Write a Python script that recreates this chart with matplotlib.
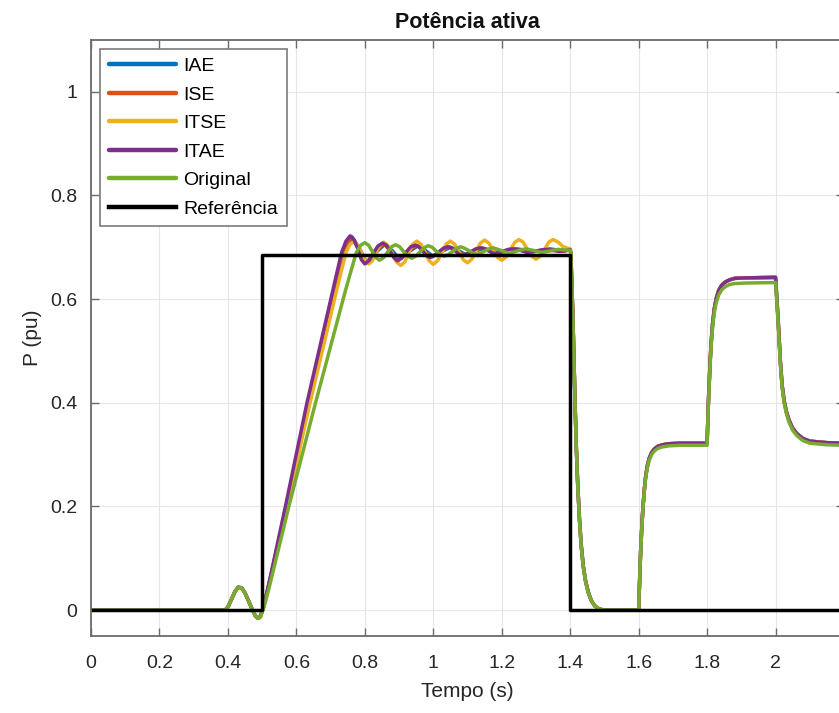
import numpy as np
import matplotlib
matplotlib.use("Agg")
import matplotlib.pyplot as plt

plt.rcParams['font.family'] = ['Liberation Sans', 'DejaVu Sans']

# ---------------- data ----------------
labels = ["IAE", "ISE", "ITSE", "ITAE", "Original", "Referência"]
colors = ["#0072BD", "#D95319", "#EDB120", "#7E2F8E", "#77AC30", "#000000"]

# common pre-step disturbance
t_pre = [0.0, 0.392, 0.400, 0.410, 0.420, 0.430, 0.440, 0.450, 0.460, 0.470, 0.480, 0.488]
p_pre = [0.0, 0.0, 0.006, 0.020, 0.035, 0.044, 0.043, 0.033, 0.018, 0.003, -0.011, -0.016]

# ramp + oscillations (0.495 .. 1.40)
t_iae = [0.495, 0.505, 0.52, 0.574, 0.636, 0.712, 0.738, 0.763, 0.785, 0.806, 0.832, 0.859, 0.881, 0.902,
         0.928, 0.955, 0.977, 0.998, 1.024, 1.051, 1.073, 1.094, 1.120, 1.147, 1.169, 1.190, 1.216, 1.243,
         1.265, 1.286, 1.312, 1.339, 1.361, 1.382, 1.400]
p_iae = [-0.012, 0.008, 0.050, 0.200, 0.400, 0.618, 0.692, 0.720, 0.697, 0.670, 0.690, 0.706, 0.693, 0.677,
         0.691, 0.703, 0.694, 0.683, 0.692, 0.700, 0.694, 0.686, 0.692, 0.698, 0.694, 0.689, 0.693, 0.697,
         0.695, 0.691, 0.694, 0.697, 0.695, 0.693, 0.696]

t_ise = [0.495, 0.505, 0.52, 0.571, 0.633, 0.709, 0.735, 0.760, 0.782, 0.803, 0.829, 0.855, 0.877, 0.898,
         0.924, 0.951, 0.973, 0.994, 1.020, 1.046, 1.068, 1.089, 1.115, 1.142, 1.164, 1.185, 1.211, 1.237,
         1.259, 1.280, 1.306, 1.333, 1.355, 1.376, 1.400]
p_ise = [-0.012, 0.008, 0.051, 0.200, 0.400, 0.618, 0.691, 0.721, 0.697, 0.669, 0.690, 0.707, 0.692, 0.675,
         0.691, 0.704, 0.693, 0.681, 0.691, 0.701, 0.693, 0.685, 0.692, 0.699, 0.694, 0.688, 0.693, 0.697,
         0.694, 0.690, 0.693, 0.696, 0.694, 0.692, 0.695]

t_itse = [0.495, 0.505, 0.52, 0.572, 0.640, 0.718, 0.745, 0.757, 0.768, 0.779, 0.790, 0.801, 0.812, 0.822,
          0.833, 0.844, 0.855, 0.867, 0.880, 0.892, 0.905, 0.917, 0.928, 0.940, 0.952, 0.964, 0.976, 0.988,
          1.000, 1.0125, 1.025, 1.0375, 1.050, 1.0625, 1.075, 1.0875, 1.100, 1.1125, 1.125, 1.1375, 1.150,
          1.1625, 1.175, 1.1875, 1.200, 1.2125, 1.225, 1.2375, 1.250, 1.2625, 1.275, 1.2875, 1.300, 1.3125,
          1.325, 1.3375, 1.350, 1.365, 1.380, 1.400]
p_itse = [-0.012, 0.008, 0.050, 0.200, 0.400, 0.618, 0.690, 0.706, 0.711, 0.705, 0.690, 0.675, 0.668, 0.674,
          0.690, 0.704, 0.710, 0.704, 0.688, 0.672, 0.665, 0.672, 0.689, 0.706, 0.712, 0.706, 0.690, 0.674,
          0.667, 0.674, 0.690, 0.706, 0.712, 0.706, 0.691, 0.676, 0.670, 0.677, 0.692, 0.708, 0.714,
          0.708, 0.695, 0.681, 0.675, 0.681, 0.695, 0.709, 0.715, 0.710, 0.696, 0.683, 0.677, 0.683,
          0.696, 0.710, 0.715, 0.710, 0.701, 0.697]

t_itae = [0.495, 0.505, 0.52, 0.568, 0.631, 0.707, 0.732, 0.745, 0.757, 0.768, 0.779, 0.790, 0.800, 0.813,
          0.826, 0.839, 0.852, 0.863, 0.874, 0.885, 0.895, 0.908, 0.921, 0.934, 0.947, 0.958, 0.969, 0.980,
          0.990, 1.003, 1.016, 1.029, 1.042, 1.053, 1.064, 1.075, 1.085, 1.098, 1.111, 1.124, 1.137, 1.148,
          1.159, 1.170, 1.180, 1.193, 1.206, 1.219, 1.232, 1.254, 1.275, 1.301, 1.327, 1.349, 1.370, 1.400]
p_itae = [-0.012, 0.008, 0.052, 0.200, 0.400, 0.618, 0.690, 0.712, 0.722, 0.715, 0.698, 0.676, 0.668, 0.675,
          0.690, 0.703, 0.708, 0.704, 0.692, 0.680, 0.674, 0.679, 0.691, 0.701, 0.704, 0.701, 0.693, 0.684,
          0.680, 0.684, 0.691, 0.698, 0.701, 0.699, 0.693, 0.687, 0.684, 0.687, 0.692, 0.697, 0.699, 0.697,
          0.694, 0.690, 0.688, 0.690, 0.693, 0.696, 0.697, 0.694, 0.690, 0.693, 0.696, 0.694, 0.692, 0.695]

t_orig = [0.495, 0.505, 0.52, 0.578, 0.656, 0.744, 0.775, 0.788, 0.800, 0.811, 0.822, 0.833, 0.843, 0.855,
          0.866, 0.878, 0.890, 0.902, 0.913, 0.925, 0.937, 0.949, 0.961, 0.973, 0.985, 0.997, 1.008, 1.020,
          1.032, 1.044, 1.056, 1.068, 1.080, 1.092, 1.103, 1.115, 1.127, 1.139, 1.151, 1.163, 1.175, 1.198,
          1.222, 1.246, 1.270, 1.293, 1.317, 1.341, 1.365, 1.400]
p_orig = [-0.014, 0.005, 0.042, 0.200, 0.400, 0.618, 0.690, 0.704, 0.709, 0.704, 0.692, 0.680, 0.675, 0.680,
          0.690, 0.701, 0.705, 0.701, 0.692, 0.683, 0.679, 0.683, 0.691, 0.699, 0.703, 0.700, 0.693, 0.686,
          0.683, 0.686, 0.692, 0.698, 0.701, 0.698, 0.694, 0.689, 0.686, 0.689, 0.693, 0.697, 0.699, 0.694,
          0.688, 0.693, 0.697, 0.694, 0.690, 0.693, 0.696, 0.694]

# common tail after 1.4 s (fall, 1.6 s rise, 1.8 s step, 2.0 s step)
t_tail = [1.402, 1.405, 1.408, 1.411, 1.4145, 1.418, 1.422, 1.427, 1.432, 1.438, 1.445, 1.453, 1.462, 1.472,
          1.485, 1.500,
          1.600, 1.602, 1.604, 1.606, 1.609, 1.612, 1.616, 1.620, 1.625, 1.631, 1.638, 1.646, 1.656, 1.670,
          1.690, 1.720,
          1.800, 1.802, 1.804, 1.806, 1.809, 1.812, 1.816, 1.821, 1.827, 1.834, 1.843, 1.853, 1.865, 1.880,
          1.910,
          2.000, 2.002, 2.005, 2.008, 2.010, 2.014, 2.019, 2.025, 2.032, 2.039, 2.050, 2.063, 2.080, 2.100,
          2.150, 2.200]
p_tail_tuned = [0.688, 0.624, 0.564, 0.484, 0.393, 0.313, 0.243, 0.177, 0.127, 0.086, 0.056, 0.034, 0.018,
                0.008, 0.002, 0.0,
                0.0, 0.040, 0.081, 0.116, 0.157, 0.192, 0.228, 0.255, 0.277, 0.293, 0.304, 0.311, 0.316,
                0.319, 0.321, 0.322,
                0.322, 0.364, 0.405, 0.436, 0.481, 0.517, 0.552, 0.581, 0.602, 0.617, 0.627, 0.633, 0.637,
                0.640, 0.641,
                0.642, 0.620, 0.590, 0.556, 0.530, 0.480, 0.435, 0.404, 0.382, 0.367, 0.351, 0.340, 0.331,
                0.326, 0.323, 0.322]
p_tail_orig = [0.686, 0.620, 0.560, 0.480, 0.390, 0.310, 0.240, 0.175, 0.125, 0.085, 0.055, 0.033, 0.018,
               0.008, 0.002, 0.0,
               0.0, 0.040, 0.080, 0.115, 0.155, 0.190, 0.225, 0.252, 0.273, 0.289, 0.300, 0.307, 0.312,
               0.315, 0.317, 0.318,
               0.318, 0.360, 0.400, 0.430, 0.475, 0.510, 0.545, 0.573, 0.594, 0.608, 0.618, 0.624, 0.628,
               0.630, 0.631,
               0.632, 0.612, 0.582, 0.548, 0.524, 0.475, 0.430, 0.400, 0.378, 0.363, 0.347, 0.336, 0.327,
               0.322, 0.319, 0.318]

# reference signal
t_ref = [0.0, 0.5, 0.5, 1.4, 1.4, 2.2]
p_ref = [0.0, 0.0, 0.685, 0.685, 0.0, 0.0]

xticks = [0, 0.2, 0.4, 0.6, 0.8, 1, 1.2, 1.4, 1.6, 1.8, 2]
xticklabels = ["0", "0.2", "0.4", "0.6", "0.8", "1", "1.2", "1.4", "1.6", "1.8", "2"]
yticks = [0, 0.2, 0.4, 0.6, 0.8, 1]
yticklabels = ["0", "0.2", "0.4", "0.6", "0.8", "1"]

# ---------------- figure ----------------
fig = plt.figure(figsize=(8.39, 7.13), dpi=100)
ax = fig.add_axes([91 / 839, 1 - 636 / 713, 753 / 839, (636 - 40) / 713])

series = [
    (t_iae, p_iae, p_tail_tuned),
    (t_ise, p_ise, p_tail_tuned),
    (t_itse, p_itse, p_tail_tuned),
    (t_itae, p_itae, p_tail_tuned),
    (t_orig, p_orig, p_tail_orig),
]
for (tt, pp, tail), lab, col in zip(series, labels[:5], colors[:5]):
    t_all = list(t_pre) + list(tt) + list(t_tail)
    p_all = list(p_pre) + list(pp) + list(tail)
    ax.plot(t_all, p_all, color=col, lw=2.5, label=lab,
            solid_joinstyle='round', solid_capstyle='round')
ax.plot(t_ref, p_ref, color=colors[5], lw=2.5, label=labels[5])

ax.set_xlim(0, 2.2)
ax.set_ylim(-0.05, 1.1)
ax.set_xticks(xticks)
ax.set_xticklabels(xticklabels)
ax.set_yticks(yticks)
ax.set_yticklabels(yticklabels)

spine_col = "#6b6b6b"
for s in ax.spines.values():
    s.set_color(spine_col)
    s.set_linewidth(1.3)
ax.tick_params(direction='in', length=6, width=1.0, color=spine_col, labelcolor="#262626",
               labelsize=14, top=True, right=True)
ax.tick_params(axis='x', pad=14)
ax.tick_params(axis='y', pad=10)
ax.grid(True, color="#e6e6e6", lw=0.8)
ax.set_axisbelow(True)

ax.set_title("Potência ativa", fontsize=15.5, fontweight='bold', color="#111111", pad=9)
ax.set_xlabel("Tempo (s)", fontsize=15, color="#262626", labelpad=7)
ax.set_ylabel("P (pu)", fontsize=15, color="#262626", labelpad=6)

leg = ax.legend(loc='upper left', fontsize=14, handlelength=3.45, handletextpad=0.4,
                labelspacing=0.56, borderpad=0.45, borderaxespad=0.45, fancybox=False,
                framealpha=1, edgecolor="#7a7a7a")
leg.get_frame().set_linewidth(1.2)
for line in leg.get_lines():
    line.set_linewidth(3.2)

fig.savefig("out.png", dpi=100)
